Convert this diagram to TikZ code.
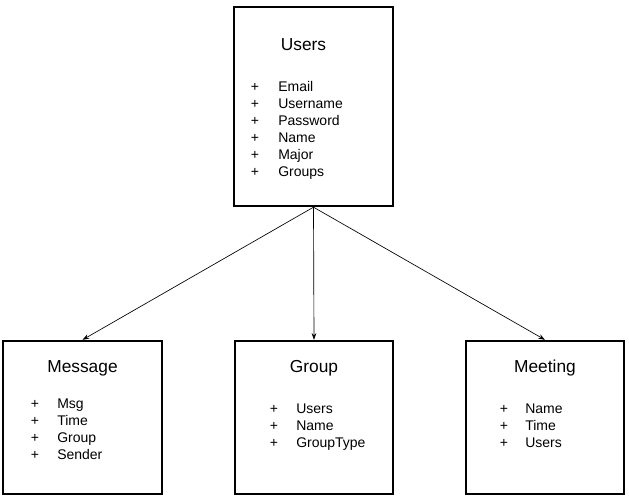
\documentclass[tikz,border=0pt]{standalone}
\usepackage{fontspec}
\setmainfont{Liberation Sans}
\usetikzlibrary{arrows.meta}
\begin{document}
\begin{tikzpicture}[x=0.75pt,y=-0.75pt,
  entity/.style={draw=black,line width=1.5pt,minimum width=119pt,minimum height=115pt,inner sep=0pt},
  title/.style={anchor=base,inner sep=0pt,font=\fontsize{13}{15}\selectfont},
  plus/.style={anchor=base,inner sep=0pt,font=\fontsize{10.5}{12}\selectfont},
  item/.style={anchor=base west,inner sep=0pt,font=\fontsize{10.5}{12}\selectfont},
  link/.style={draw=black,line width=0.5pt,-{Stealth[length=5pt,width=3.5pt]}}]
\useasboundingbox (0,0) rectangle (629,500);
\node[entity,minimum height=149.5pt] (U) at (313.5,106.5) {};
\node[entity] (M) at (82.5,417.5) {};
\node[entity] (G) at (314,417.5) {};
\node[entity] (T) at (545,417.5) {};
% Users
\node[title] (ut) at (303.5,50) {Users};
\foreach \t/\y [count=\i] in {Email/91,Username/108,Password/125,Name/142,Major/159,Groups/176}{
  \node[plus] (up\i) at (255,\y) {+};
  \node[item] (ui\i) at (278,\y) {\t};
}
% Message
\node[title] (mt) at (82.5,372) {Message};
\foreach \t/\y [count=\i] in {Msg/408,Time/425,Group/442,Sender/459}{
  \node[plus] (mp\i) at (35,\y) {+};
  \node[item] (mi\i) at (57,\y) {\t};
}
% Group
\node[title] (gt) at (314,372) {Group};
\foreach \t/\y [count=\i] in {Users/413,Name/430,GroupType/447}{
  \node[plus] (gp\i) at (274,\y) {+};
  \node[item] (gi\i) at (296,\y) {\t};
}
% Meeting
\node[title] (tt) at (545,372) {Meeting};
\foreach \t/\y [count=\i] in {Name/413,Time/430,Users/447}{
  \node[plus] (tp\i) at (504,\y) {+};
  \node[item] (ti\i) at (525,\y) {\t};
}
\draw[link] (U.south) -- (M.north);
\draw[link] (U.south) -- (G.north);
\draw[link] (U.south) -- (T.north);
\end{tikzpicture}
\end{document}
